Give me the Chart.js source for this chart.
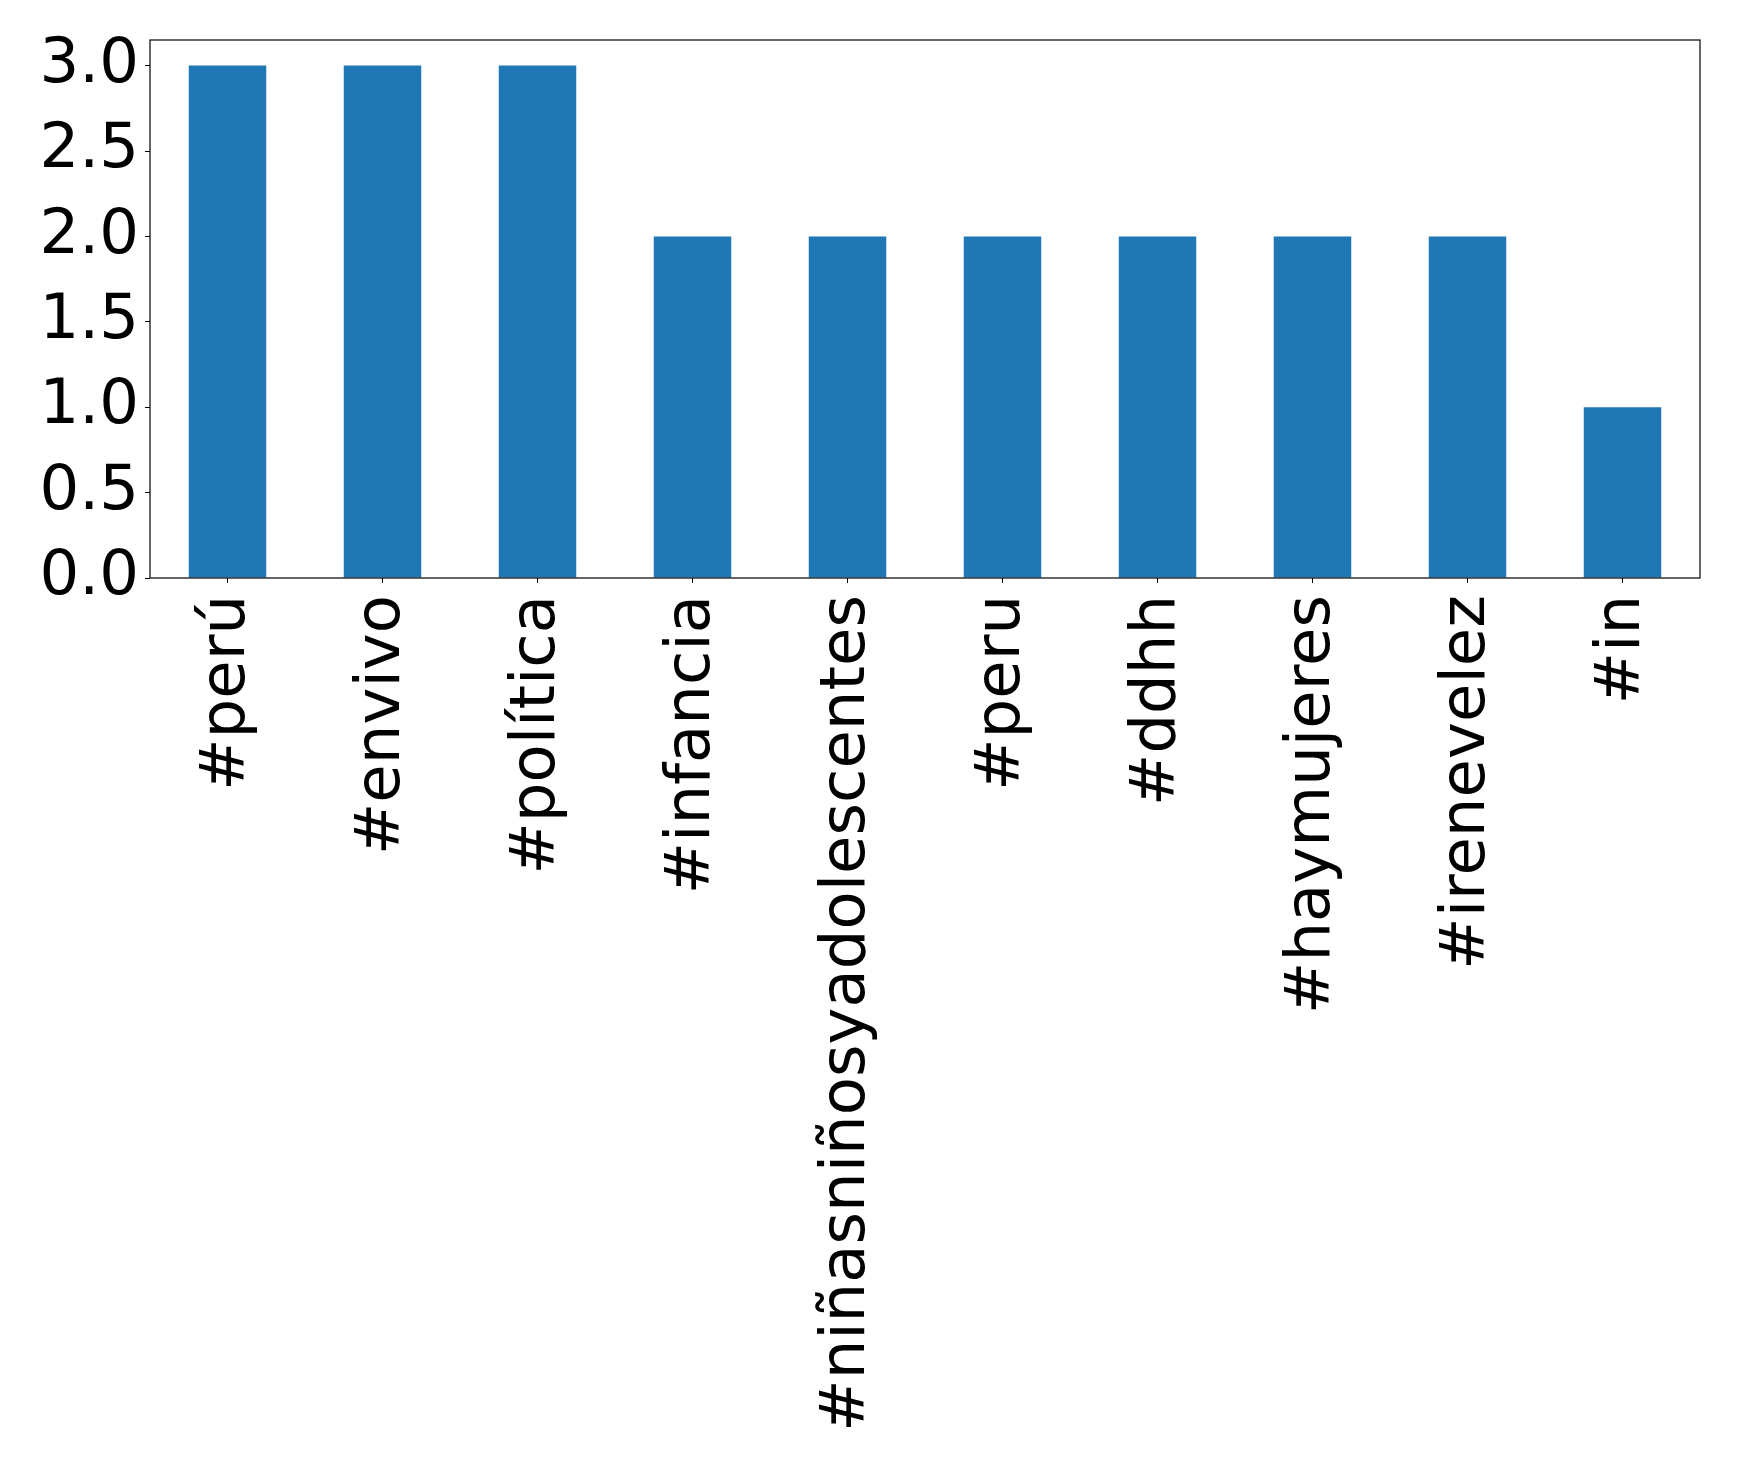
<!DOCTYPE html>
<html>
<head>
<meta charset="utf-8">
<script src="https://cdn.jsdelivr.net/npm/chart.js@4/dist/chart.umd.min.js"></script>
<style>
  html, body { margin: 0; padding: 0; background: #fff; }
  #wrap { width: 1739px; height: 1464px; }
</style>
</head>
<body>
<div id="wrap"><canvas id="barChart" width="1739" height="1464"></canvas></div>
<script>
// datos del gráfico
var hashtags = ['#perú', '#envivo', '#política', '#infancia', '#niñasniñosyadolescentes',
                '#peru', '#ddhh', '#haymujeres', '#irenevelez', '#in'];
var counts = [3, 3, 3, 2, 2, 2, 2, 2, 2, 1];
var yTicks = [0, 0.5, 1, 1.5, 2, 2.5, 3];

var FONT = { family: 'DejaVu Sans', size: 62.5, lineHeight: 1.0 };

// marco negro alrededor del área del gráfico
var framePlugin = {
    id: 'frame',
    afterDraw: function (chart) {
        var a = chart.chartArea, ctx = chart.ctx;
        ctx.save();
        ctx.strokeStyle = '#000';
        ctx.lineWidth = 1.2;
        ctx.strokeRect(a.left, a.top, a.right - a.left, a.bottom - a.top);
        ctx.restore();
    }
};

var ctx = document.getElementById('barChart').getContext('2d');
var chart = new Chart(ctx, {
    type: 'bar',
    data: {
        labels: hashtags,
        datasets: [{
            data: counts,
            backgroundColor: '#1f77b4',
            borderWidth: 0,
            barPercentage: 0.5,
            categoryPercentage: 1.0
        }]
    },
    options: {
        responsive: false,
        animation: false,
        layout: { padding: { top: 40, right: 39, left: 0, bottom: 0 } },
        plugins: { legend: { display: false }, tooltip: { enabled: false } },
        scales: {
            x: {
                grid: { drawOnChartArea: false, color: '#000', tickLength: 5, offset: false },
                border: { display: false },
                ticks: {
                    color: '#000', font: FONT, minRotation: 90, maxRotation: 90,
                    autoSkip: false, padding: 12
                },
                afterFit: function (scale) { scale.height = 886; }
            },
            y: {
                min: 0,
                max: 3.15,
                grid: { drawOnChartArea: false, color: '#000', tickLength: 5 },
                border: { display: false },
                afterBuildTicks: function (scale) {
                    scale.ticks = yTicks.map(function (v) { return { value: v }; });
                },
                ticks: {
                    color: '#000', font: FONT, padding: 6,
                    callback: function (v) { return Number(v).toFixed(1); }
                },
                afterFit: function (scale) { scale.width = 150; }
            }
        }
    },
    plugins: [framePlugin]
});
</script>
</body>
</html>
